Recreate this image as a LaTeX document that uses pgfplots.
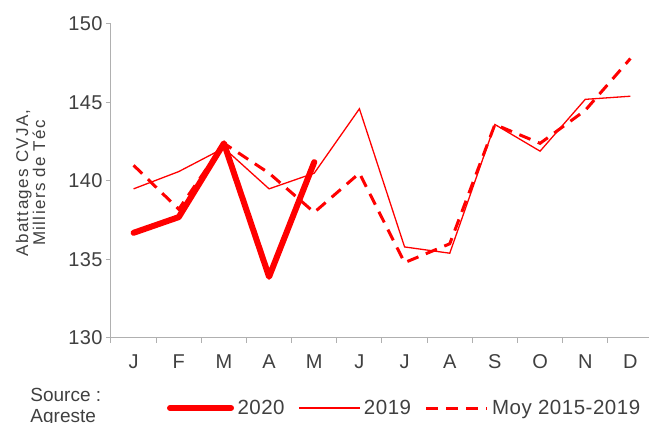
\documentclass[border=0pt]{standalone}
\usepackage{fontspec}
\setmainfont{Liberation Sans}
\usepackage{pgfplots}
\pgfplotsset{compat=1.18}

\definecolor{rouge}{RGB}{255,0,0}
\definecolor{texte}{RGB}{64,64,64}
\definecolor{axe}{RGB}{176,176,176}

\begin{document}
\begin{tikzpicture}
\useasboundingbox (-111pt,-85pt) rectangle (538pt,338pt);
\begin{axis}[
scale only axis,
width=542pt, height=314pt,
xmin=-0.5, xmax=11.5,
ymin=130, ymax=150,
ytick={130,135,...,150},
xtick={0,...,11},
xticklabels={J,F,M,A,M,J,J,A,S,O,N,D},
minor xtick={-0.5,0.5,...,11.5},
axis lines*=left,
axis line style={axe, line width=1pt},
tick align=outside,
major tick length=5pt,
minor tick length=5pt,
major x tick style={draw=none},
minor x tick style={axe, line width=1pt},
y tick style={axe, line width=1pt},
tick label style={font=\fontsize{20}{22}\selectfont\addfontfeatures{LetterSpace=2}, text=texte},
x tick label style={yshift=-8pt},
/pgf/number format/assume math mode=true,
legend style={
  draw=none, fill=none,
  at={(axis description cs:0.103,-0.223)},
  anchor=west, inner sep=0pt,
  font=\fontsize{20.5}{22}\selectfont\addfontfeatures{LetterSpace=2.5}, text=texte,
  nodes={inner sep=3.5pt, anchor=west},
  /tikz/every even column/.append style={column sep=10pt},
},
legend columns=3,
legend image code/.code={\draw[#1] (0pt,0pt) -- (61pt,0pt);},
clip=false,
]
\addplot [rouge, line width=6pt, line cap=round, line join=round]
coordinates {(0,136.7) (1,137.7) (2,142.4) (3,133.9) (4,141.2)};
\addlegendentry{2020}
\addplot [rouge, line width=1.3pt]
coordinates {(0,139.5) (1,140.6) (2,142.1) (3,139.5) (4,140.5) (5,144.6)
 (6,135.8) (7,135.4) (8,143.6) (9,141.9) (10,145.2) (11,145.4)};
\addlegendentry{2019}
\addplot [rouge, line width=3pt, dash pattern=on 12pt off 8pt]
coordinates {(0,141.0) (1,138.2) (2,142.4) (3,140.5) (4,138.0) (5,140.5)
 (6,134.8) (7,136.0) (8,143.6) (9,142.4) (10,144.5) (11,147.8)};
\addlegendentry{Moy 2015-2019}
\node[rotate=90, align=center, text=texte,
  font=\fontsize{17}{17}\selectfont\addfontfeatures{LetterSpace=8}]
  at (axis description cs:-0.1485,0.494) {Abattages CVJA,\\Milliers de Téc};
\node[anchor=north west, align=left, text=texte, inner sep=0pt,
  font=\fontsize{19}{21}\selectfont]
  at (axis description cs:-0.149,-0.159) {Source :\\Agreste};
\end{axis}
\end{tikzpicture}
\end{document}
